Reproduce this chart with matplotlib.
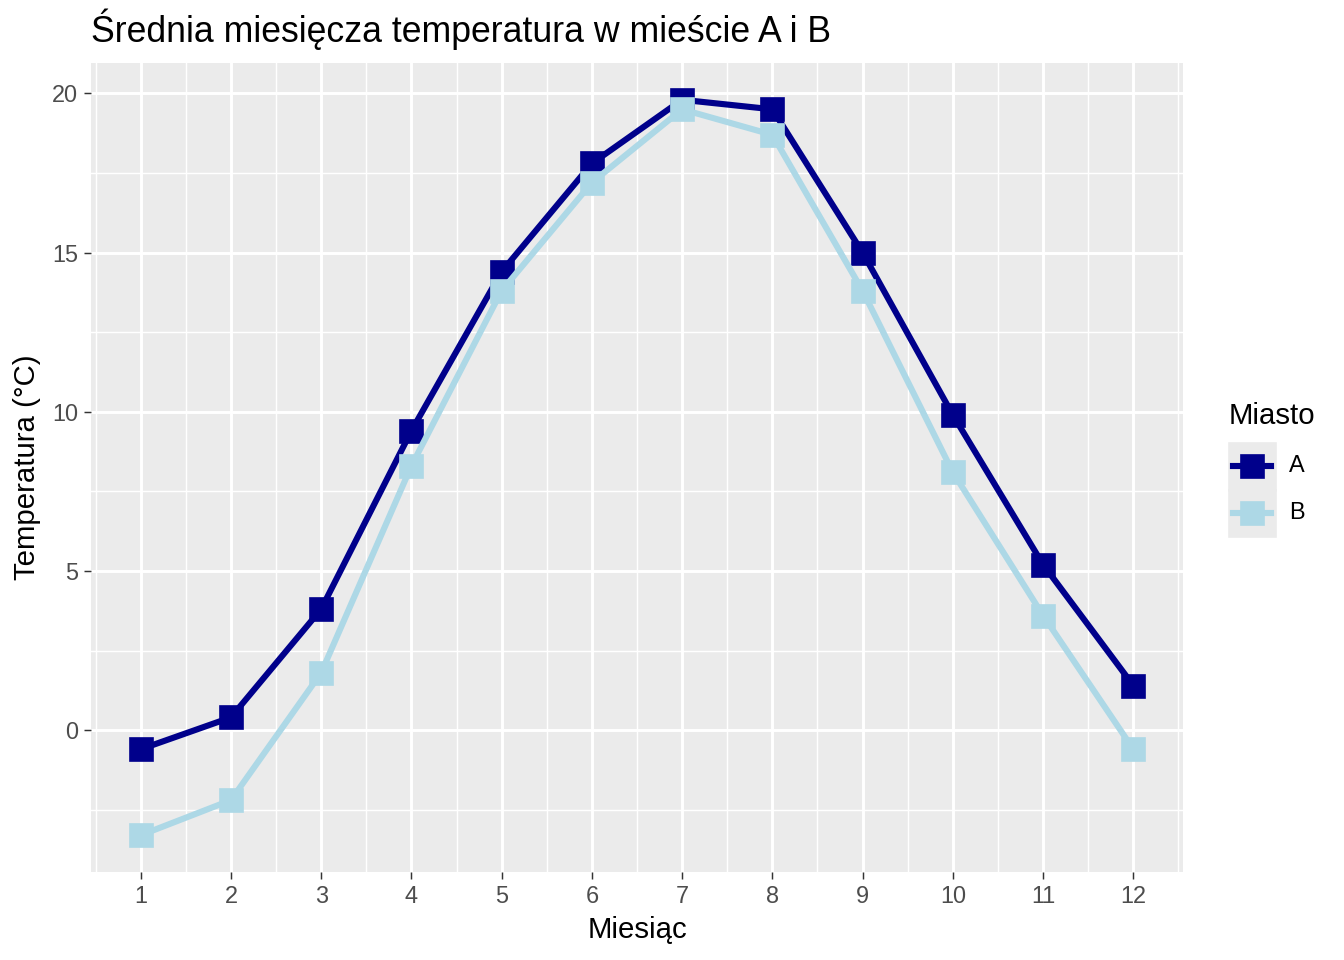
import numpy as np
import matplotlib
matplotlib.use("Agg")
import matplotlib.pyplot as plt
from matplotlib.lines import Line2D
from matplotlib.patches import Rectangle

plt.rcParams['font.family'] = ['Liberation Sans', 'DejaVu Sans']

months = list(range(1, 13))
temp_a = [-0.6, 0.4, 3.8, 9.4, 14.4, 17.8, 19.8, 19.5, 15.0, 9.9, 5.2, 1.4]
temp_b = [-3.3, -2.2, 1.8, 8.3, 13.8, 17.2, 19.5, 18.7, 13.8, 8.1, 3.6, -0.6]
cities = ["A", "B"]
colors = ["#00008B", "#ADD8E6"]

fig = plt.figure(figsize=(7, 5), dpi=192)
ax = fig.add_axes([91/1344, 1-872/960, (1183-91)/1344, (872-63)/960])
ax.set_facecolor("#EBEBEB")

for vals, c in zip([temp_a, temp_b], colors):
    ax.plot(months, vals, color=c, lw=2.3, marker="s", ms=8.5, zorder=3)

ax.set_xlim(0.45, 12.55)
ax.set_ylim(-4.455, 20.955)
ax.set_xticks(months)
ax.set_yticks([0, 5, 10, 15, 20])
ax.set_xticks(np.arange(0.5, 13, 1), minor=True)
ax.set_yticks([-2.5, 2.5, 7.5, 12.5, 17.5], minor=True)
ax.grid(which="major", color="white", lw=1.1)
ax.grid(which="minor", color="white", lw=0.55)
ax.set_axisbelow(True)
for s in ax.spines.values():
    s.set_visible(False)
ax.tick_params(which="major", length=2.75, width=0.55, color="#333333",
               labelsize=8.8, labelcolor="#4D4D4D", pad=2.2)
ax.tick_params(which="minor", length=0)

ax.set_xlabel("Miesiąc", fontsize=11, labelpad=3)
ax.set_ylabel("Temperatura (°C)", fontsize=11, labelpad=4)
ax.set_title("Średnia miesięcza temperatura w mieście A i B", fontsize=13.35,
             loc="left", pad=8)

# legend drawn in figure coordinates
W, H = 1344, 960
fig.text(1229/W, 1-416/H, "Miasto", fontsize=11, va="center", ha="left")
for i, (name, c) in enumerate(zip(cities, colors)):
    top = 443 + i*46.5
    fig.patches.append(Rectangle((1229/W, 1-(top+46.5)/H), 46/W, 46.5/H,
                                 transform=fig.transFigure, color="#EBEBEB",
                                 zorder=1))
    yc = 1-(top+23)/H
    fig.lines.append(Line2D([1233/W, 1271/W], [yc, yc], color=c, lw=2.3,
                            transform=fig.transFigure, zorder=2))
    fig.lines.append(Line2D([1252/W], [yc], color=c, marker="s", ms=8.5,
                            transform=fig.transFigure, zorder=3))
    fig.text(1289/W, yc, name, fontsize=8.8, va="center", ha="left")

fig.savefig("out.png", dpi=192)
